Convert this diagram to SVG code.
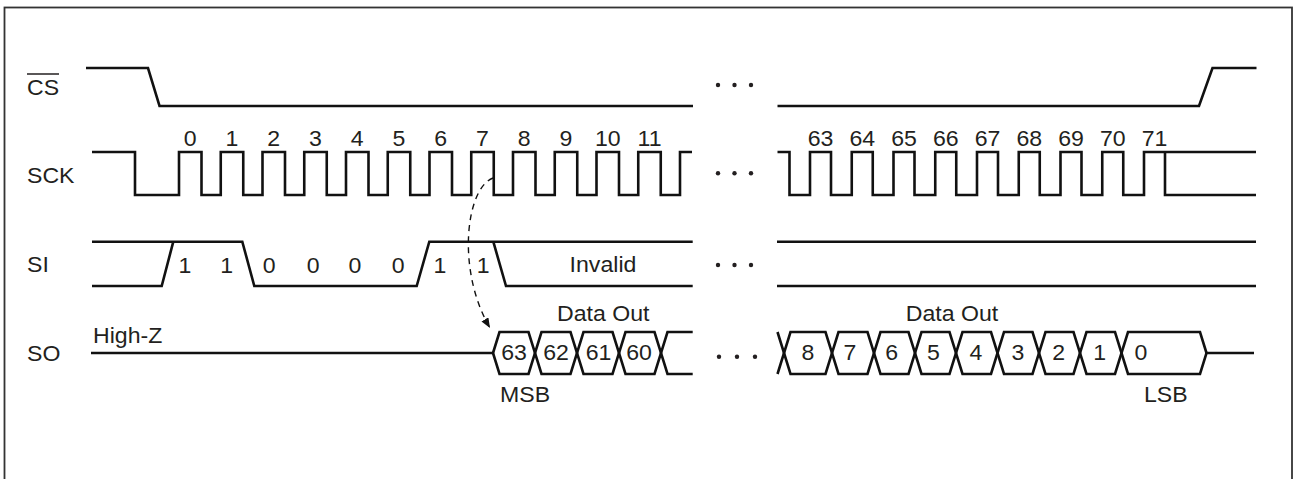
<svg xmlns="http://www.w3.org/2000/svg" width="1295" height="479" viewBox="0 0 1295 479">
<style>
.sig{fill:none;stroke:#111;stroke-width:2.6;stroke-linejoin:miter;stroke-linecap:butt}
.t{font-family:"Liberation Sans",Arial,Helvetica,sans-serif;font-size:22px;fill:#231f20}
.m{text-anchor:middle}
.dot{fill:#231f20}
.dash{fill:none;stroke:#111;stroke-width:1.4;stroke-dasharray:6 5}
</style>
<defs>
<marker id="ah" markerUnits="userSpaceOnUse" markerWidth="12" markerHeight="10" refX="10" refY="4" orient="auto">
<path d="M0,0 L10,4 L0,8 z" fill="#111"/>
</marker>
</defs>
<rect x="4.5" y="7.5" width="1287.5" height="500" fill="#fff" stroke="#333" stroke-width="1.8"/>

<g id="cs">
<path class="sig" d="M86,68 H148 L159.5,106 H693"/>
<path class="sig" d="M777.5,106 H1199 L1212.5,68 H1256.5"/>
<line x1="27" y1="74" x2="59" y2="74" stroke="#231f20" stroke-width="1.5"/>
<circle class="dot" cx="718" cy="85" r="2.2"/><circle class="dot" cx="734.5" cy="85" r="2.2"/><circle class="dot" cx="751" cy="85" r="2.2"/>
</g>

<g id="sck">
<path class="sig" d="M92,152 H135 V195 H179 V152 H201.5 V195 H220.75 V152 H243.25 V195 H262.5 V152 H285 V195 H304.25 V152 H326.75 V195 H346 V152 H368.5 V195 H387.75 V152 H410.25 V195 H429.5 V152 H452 V195 H471.25 V152 H493.75 V195 H513 V152 H535.5 V195 H554.75 V152 H577.25 V195 H596.5 V152 H619 V195 H638.25 V152 H660.75 V195 H680 V152 H692"/>
<path class="sig" d="M777.5,152 H789.5 V195 H810 V152 H831 V195 H851.75 V152 H872.75 V195 H893.5 V152 H914.5 V195 H935.25 V152 H956.25 V195 H977 V152 H998 V195 H1018.75 V152 H1039.75 V195 H1060.5 V152 H1081.5 V195 H1102.25 V152 H1123.25 V195 H1144 V152 H1165 V195 H1256 M1165,152 H1256"/>
<circle class="dot" cx="718" cy="173.3" r="2.2"/><circle class="dot" cx="734.5" cy="173.3" r="2.2"/><circle class="dot" cx="751" cy="173.3" r="2.2"/>
</g>

<g id="si">
<path class="sig" d="M92,241.7 H242.3 L254.3,286 H416.7 L429.3,241.7 H692.7"/>
<path class="sig" d="M92,286 H161.7 L173.3,241.7"/>
<path class="sig" d="M493.3,241.7 L506,286 H692.7"/>
<path class="sig" d="M777,241.7 H1256 M777,286 H1256"/>
<circle class="dot" cx="718" cy="265" r="2.2"/><circle class="dot" cx="734.5" cy="265" r="2.2"/><circle class="dot" cx="751" cy="265" r="2.2"/>
</g>

<g id="so">
<path class="sig" d="M91,353 H493"/>
<path class="sig" d="M493,353 L499.5,332 H528.5 L541.5,374 H570.5 L583.5,332 H612.5 L625.5,374 H654.5 L667.5,332 H692.7"/>
<path class="sig" d="M493,353 L499.5,374 H528.5 L541.5,332 H570.5 L583.5,374 H612.5 L625.5,332 H654.5 L667.5,374 H692.7"/>
<path class="sig" d="M777.5,332 L790.5,374 H825.5 L838.5,332 H867.5 L880.5,374 H908.5 L921.5,332 H949.5 L962.5,374 H991 L1004,332 H1032.5 L1045.5,374 H1073.5 L1086.5,332 H1115 L1128,374 H1200 L1206.5,353 H1254"/>
<path class="sig" d="M777.5,374 L790.5,332 H825.5 L838.5,374 H867.5 L880.5,332 H908.5 L921.5,374 H949.5 L962.5,332 H991 L1004,374 H1032.5 L1045.5,332 H1073.5 L1086.5,374 H1115 L1128,332 H1200 L1206.5,353"/>
<circle class="dot" cx="719" cy="356.7" r="2.2"/><circle class="dot" cx="737" cy="356.7" r="2.2"/><circle class="dot" cx="755" cy="356.7" r="2.2"/>
</g>

<g id="connectors">
<path class="dash" d="M493,178 C466,188 456,270 490,328" marker-end="url(#ah)"/>
</g>

<g id="labels" transform="scale(1.05,1)">
<text class="t" x="25.71" y="95">CS</text>
<text class="t" x="25.71" y="183">SCK</text>
<text class="t" x="25.71" y="272">SI</text>
<text class="t" x="25.71" y="361">SO</text>
<text class="t" x="88.57" y="343">High-Z</text>
<g class="t m">
<text x="181.19" y="146">0</text><text x="220.95" y="146">1</text><text x="260.71" y="146">2</text><text x="300.48" y="146">3</text><text x="340.24" y="146">4</text><text x="380" y="146">5</text><text x="419.76" y="146">6</text><text x="459.52" y="146">7</text><text x="499.29" y="146">8</text><text x="539.05" y="146">9</text><text x="578.81" y="146">10</text><text x="618.57" y="146">11</text>
<text x="781.43" y="146">63</text><text x="821.19" y="146">64</text><text x="860.95" y="146">65</text><text x="900.71" y="146">66</text><text x="940.48" y="146">67</text><text x="980.24" y="146">68</text><text x="1020" y="146">69</text><text x="1059.76" y="146">70</text><text x="1099.52" y="146">71</text>
<text x="176.19" y="273.3">1</text><text x="215.9" y="273.3">1</text><text x="256.48" y="273.3">0</text><text x="298.38" y="273.3">0</text><text x="338.1" y="273.3">0</text><text x="379.33" y="273.3">0</text><text x="419.05" y="273.3">1</text><text x="460.29" y="273.3">1</text>
<text x="574.29" y="272">Invalid</text>
<text x="574.57" y="320.7">Data Out</text>
<text x="906.67" y="320.7">Data Out</text>
<text x="489.52" y="360">63</text><text x="529.52" y="360">62</text><text x="570" y="360">61</text><text x="608.57" y="360">60</text>
<text x="769.52" y="360">8</text><text x="809.52" y="360">7</text><text x="849.14" y="360">6</text><text x="888.95" y="360">5</text><text x="929.43" y="360">4</text><text x="969.52" y="360">3</text><text x="1008.19" y="360">2</text><text x="1047.24" y="360">1</text><text x="1086.67" y="360">0</text>
</g>
<text class="t" x="476.19" y="401.7">MSB</text>
<text class="t" x="1089.52" y="401.7">LSB</text>
</g>
</svg>
